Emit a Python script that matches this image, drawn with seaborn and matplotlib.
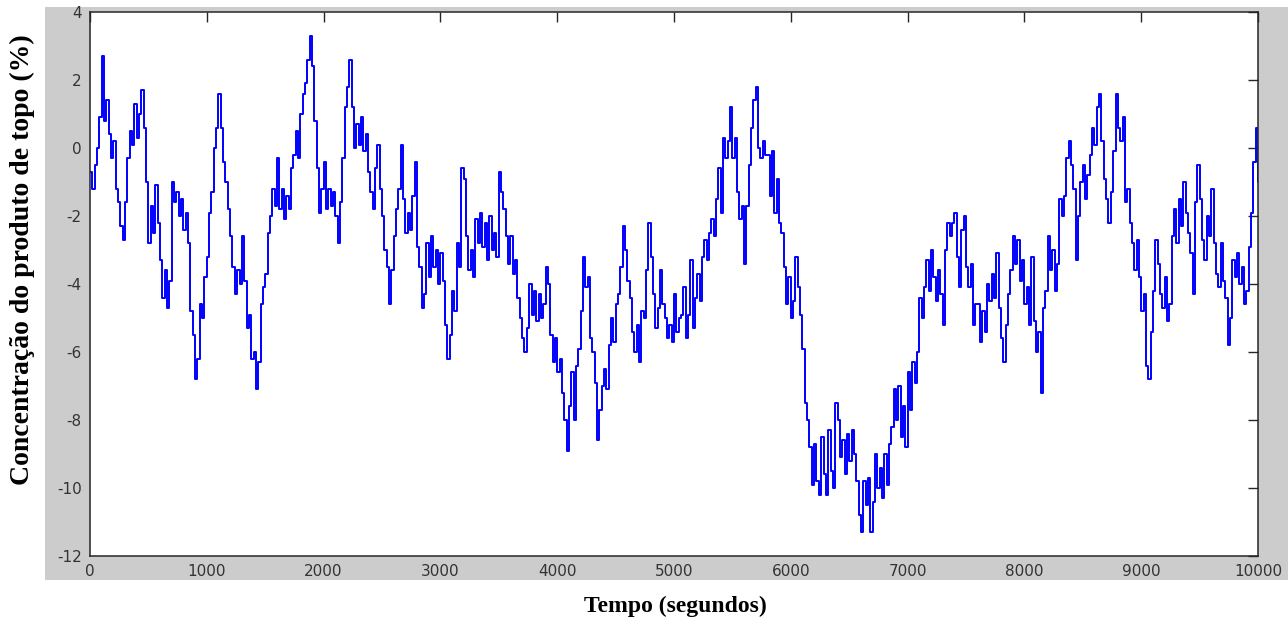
import matplotlib
matplotlib.use("Agg")
import matplotlib.pyplot as plt
import seaborn as sns
import pandas as pd
from matplotlib.patches import Rectangle

# Sampling grid of the signal (seconds)
time_s = list(range(0, 10001, 20))

# Top product concentration (%), one value every 20 s
concentration = [
    -0.7, -1.2, -0.5, 0.0, 0.9,
    2.7, 0.8, 1.4, 0.4, -0.3,
    0.2, -1.2, -1.6, -2.3, -2.7,
    -1.6, -0.3, 0.5, 0.1, 1.3,
    0.3, 1.0, 1.7, 0.6, -1.0,
    -2.8, -1.7, -2.5, -1.1, -2.2,
    -3.3, -4.4, -3.6, -4.7, -3.9,
    -1.0, -1.6, -1.3, -2.0, -1.5,
    -2.4, -1.9, -2.8, -4.8, -5.5,
    -6.8, -6.2, -4.6, -5.0, -3.8,
    -3.2, -1.9, -1.3, 0.0, 0.6,
    1.6, 0.6, -0.4, -1.0, -1.8,
    -2.6, -3.5, -4.3, -3.6, -4.0,
    -2.6, -3.9, -5.3, -4.9, -6.2,
    -6.0, -7.1, -6.3, -4.6, -4.1,
    -3.7, -2.5, -2.0, -1.2, -1.7,
    -0.3, -1.8, -1.2, -2.1, -1.4,
    -1.8, -0.6, -0.2, 0.5, -0.3,
    1.0, 1.6, 1.9, 2.6, 3.3,
    2.4, 0.8, -0.6, -1.9, -1.2,
    -0.4, -1.8, -1.2, -1.7, -1.3,
    -2.0, -2.8, -1.6, -0.3, 1.2,
    1.8, 2.6, 1.2, 0.0, 0.7,
    0.1, 0.9, -0.1, 0.4, -0.7,
    -1.3, -1.8, -0.6, 0.1, -1.2,
    -2.0, -3.0, -3.5, -4.6, -3.6,
    -2.6, -1.8, -1.2, 0.1, -1.5,
    -2.5, -1.9, -2.4, -1.4, -0.4,
    -2.9, -3.5, -4.7, -4.3, -2.8,
    -3.8, -2.6, -3.5, -3.0, -4.0,
    -3.1, -3.9, -5.2, -6.2, -5.5,
    -4.2, -4.8, -2.8, -3.5, -0.6,
    -0.9, -2.6, -3.6, -3.0, -3.8,
    -2.1, -2.8, -1.9, -2.9, -2.2,
    -3.3, -2.0, -3.0, -2.5, -3.2,
    -0.7, -1.3, -1.8, -2.6, -3.4,
    -2.6, -3.7, -3.3, -4.4, -5.0,
    -5.6, -6.0, -5.3, -4.0, -4.9,
    -4.2, -5.1, -4.3, -5.0, -4.6,
    -3.5, -4.0, -5.5, -6.3, -5.6,
    -6.6, -6.2, -7.2, -8.0, -8.9,
    -7.6, -6.6, -8.0, -6.4, -5.9,
    -4.8, -3.2, -4.1, -3.8, -5.6,
    -6.0, -6.9, -8.6, -7.7, -7.0,
    -6.5, -7.1, -5.8, -5.0, -5.7,
    -4.6, -4.3, -3.5, -2.3, -3.0,
    -3.9, -4.4, -5.4, -6.0, -5.2,
    -6.3, -4.8, -5.0, -3.6, -2.2,
    -3.2, -4.3, -5.3, -4.7, -3.6,
    -4.6, -5.0, -5.6, -5.2, -5.7,
    -4.3, -5.4, -5.0, -4.9, -4.1,
    -5.6, -4.9, -3.3, -5.3, -4.4,
    -3.7, -4.5, -3.2, -2.7, -3.3,
    -2.5, -2.1, -2.6, -1.5, -0.6,
    -1.9, 0.3, -0.3, 0.2, 1.2,
    -0.3, 0.3, -1.3, -2.1, -1.7,
    -3.4, -1.7, -0.5, 0.6, 1.4,
    1.8, 0.0, -0.3, 0.2, -0.2,
    -0.2, -1.4, -0.1, -1.9, -0.9,
    -2.2, -2.5, -3.5, -4.6, -3.8,
    -5.0, -4.5, -3.2, -4.1, -4.9,
    -5.9, -7.5, -8.0, -8.8, -9.9,
    -8.7, -9.8, -10.2, -8.5, -9.6,
    -10.2, -8.3, -9.5, -10.0, -7.5,
    -8.0, -9.1, -8.6, -9.6, -8.4,
    -9.2, -8.3, -9.0, -9.8, -10.8,
    -11.3, -9.8, -10.5, -9.7, -11.3,
    -10.4, -9.0, -10.0, -9.4, -10.3,
    -9.0, -9.9, -8.7, -8.2, -7.1,
    -8.0, -7.0, -8.5, -7.6, -8.8,
    -6.6, -7.7, -6.3, -6.9, -6.0,
    -4.4, -5.0, -4.1, -3.3, -4.2,
    -3.0, -3.8, -4.5, -3.6, -4.3,
    -5.2, -3.0, -2.2, -2.6, -2.2,
    -1.9, -3.2, -4.1, -2.4, -2.0,
    -3.5, -4.1, -3.4, -5.2, -4.6,
    -4.6, -5.7, -4.8, -5.4, -4.0,
    -4.5, -3.7, -4.4, -3.1, -4.7,
    -5.6, -6.3, -5.2, -4.3, -3.6,
    -2.6, -3.4, -2.7, -3.9, -3.3,
    -4.6, -4.1, -5.2, -3.2, -5.1,
    -6.0, -5.4, -7.2, -4.7, -4.2,
    -2.6, -3.6, -3.0, -4.2, -3.4,
    -1.5, -2.0, -1.4, -0.3, 0.2,
    -0.5, -1.2, -3.3, -2.0, -1.0,
    -0.5, -1.5, -0.8, -0.2, 0.6,
    0.1, 1.2, 1.6, 0.2, -0.9,
    -1.5, -2.2, -1.3, -0.1, 1.6,
    0.6, 0.2, 0.9, -1.6, -1.2,
    -2.2, -2.8, -3.6, -2.7, -3.8,
    -4.8, -4.3, -6.4, -6.8, -5.4,
    -4.2, -2.7, -3.4, -4.3, -4.7,
    -3.8, -5.1, -4.6, -2.6, -1.8,
    -2.8, -1.5, -2.3, -1.0, -1.9,
    -2.5, -3.1, -4.3, -1.6, -0.5,
    -1.5, -2.7, -3.3, -2.0, -2.6,
    -1.2, -2.8, -3.7, -4.1, -2.8,
    -3.9, -4.4, -5.8, -5.0, -3.3,
    -3.8, -3.1, -4.0, -3.5, -4.6,
    -4.2, -2.9, -1.9, -0.4, 0.6,
    -1.0,
]

x_ticks = [0, 1000, 2000, 3000, 4000, 5000, 6000, 7000, 8000, 9000, 10000]
y_ticks = [-12, -10, -8, -6, -4, -2, 0, 2, 4]
x_label = "Tempo (segundos)"
y_label = "Concentração do produto de topo (%)"

df = pd.DataFrame({"t": time_s, "c": concentration})

sns.set_theme(style="white")
plt.rcParams["font.family"] = ["DejaVu Sans"]

W, H = 1288, 621
fig = plt.figure(figsize=(W / 100, H / 100), dpi=100)
fig.patch.set_facecolor("white")

# grey figure panel behind the axes
bg = fig.add_axes([45 / W, 1 - 580 / H, (W - 45) / W, 573 / H], zorder=0)
bg.add_patch(Rectangle((0, 0), 1, 1, transform=bg.transAxes,
                       facecolor="#cccccc", edgecolor="none"))
bg.set_axis_off()

ax = fig.add_axes([90 / W, 1 - 556 / H, 1168 / W, 544 / H], zorder=2)
ax.set_facecolor("white")
sns.lineplot(data=df, x="t", y="c", ax=ax, color="#0000ff", linewidth=1.4,
             drawstyle="steps-post", estimator=None, sort=False)

ax.set_xlim(0, 10000)
ax.set_ylim(-12, 4)
ax.set_xticks(x_ticks)
ax.set_xticklabels([str(v) for v in x_ticks])
ax.set_yticks(y_ticks)
ax.set_yticklabels([str(v) for v in y_ticks])
ax.tick_params(direction="in", length=7, width=1.0, top=True, right=True,
               color="#262626", labelcolor="#333333", labelsize=11, pad=6)
for s in ax.spines.values():
    s.set_color("#262626")
    s.set_linewidth(1.1)
ax.set_xlabel("")
ax.set_ylabel("")

fig.text(22 / W, 1 - 260 / H, y_label, rotation=90, ha="center", va="center",
         family=["Liberation Serif", "DejaVu Serif"], fontweight="bold",
         fontsize=20, color="black")
fig.text(675 / W, 1 - 606 / H, x_label, ha="center", va="center",
         family=["Liberation Serif", "DejaVu Serif"], fontweight="bold",
         fontsize=17, color="black")

fig.savefig("out.png", dpi=100)
